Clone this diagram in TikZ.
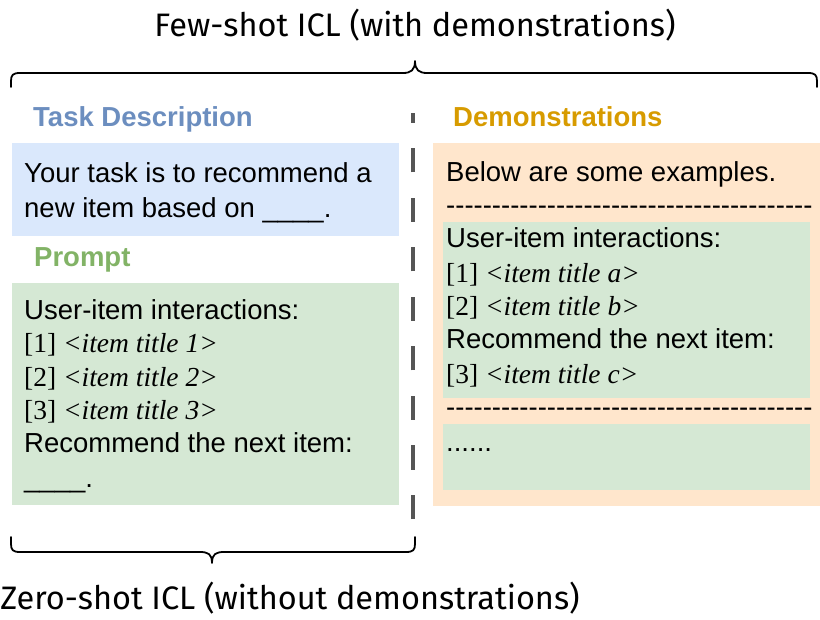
\documentclass[tikz,border=0pt]{standalone}
\usepackage{fontspec}
\setmainfont{Liberation Sans}
\newfontfamily\itemfont{Liberation Serif}
\newfontfamily\titlefont{Fira Sans}
\definecolor{blueF}{HTML}{DAE8FC}
\definecolor{greenF}{HTML}{D5E8D4}
\definecolor{orangeF}{HTML}{FFE6CC}
\definecolor{blueT}{HTML}{6C8EBF}
\definecolor{greenT}{HTML}{82B366}
\definecolor{orangeT}{HTML}{D79B00}
\definecolor{sepgray}{HTML}{555555}
\newcommand\itm[2]{{\itemfont [#1] \itshape <item title #2>}}
\newcommand\hfive{\mbox{-}\mbox{-}\mbox{-}\mbox{-}\mbox{-}}
\newcommand\hyrow{\hfive\hfive\hfive\hfive\hfive\hfive\hfive\hfive}
\newcommand\blank{\textunderscore\textunderscore\textunderscore\textunderscore}
\tikzset{
  body/.style={anchor=base west, inner sep=0pt, font=\fontsize{27.5}{33}\selectfont},
  lbl/.style={anchor=base west, inner sep=0pt, font=\fontsize{27.5}{33}\selectfont\bfseries},
  panel/.style={anchor=north west, inner sep=0pt, draw=none},
  ttl/.style={anchor=base, inner sep=0pt, font=\titlefont\fontsize{32.5}{38}\selectfont},
  bracepath/.style={line width=1.8pt, line cap=round, line join=round},
}
\begin{document}
\begin{tikzpicture}[x=1pt,y=-1pt]
\useasboundingbox (0,0) rectangle (820,620);
% panels
\node[panel, fill=blueF, minimum width=387pt, minimum height=93pt] (taskbox) at (12,143) {};
\node[panel, fill=greenF, minimum width=387pt, minimum height=222pt] (promptbox) at (12,283) {};
\node[panel, fill=orangeF, minimum width=387pt, minimum height=363pt] (demobox) at (433,143) {};
\node[panel, fill=greenF, minimum width=367pt, minimum height=176pt] (demoex) at (443,222) {};
\node[panel, fill=greenF, minimum width=367pt, minimum height=66pt] (demomore) at (443,424) {};
% labels
\node[lbl, text=blueT] (tasklbl) at (33,127) {Task Description};
\node[lbl, text=greenT] (promptlbl) at (34,267) {Prompt};
\node[lbl, text=orangeT] (demolbl) at (453,127) {Demonstrations};
% left texts
\node[body] (t1) at (24,183) {Your task is to recommend a};
\node[body] (t2) at (24,217.5) {new item based on \blank.};
\node[body] (p1) at (24,320) {User-item interactions:};
\node[body] (p2) at (24,353) {\itm{1}{1}};
\node[body] (p3) at (24,387) {\itm{2}{2}};
\node[body] (p4) at (24,420) {\itm{3}{3}};
\node[body] (p5) at (24,453) {Recommend the next item:};
\node[body] (p6) at (24,487) {\blank.};
% right texts
\node[body] (d0) at (446,182) {Below are some examples.};
\node[body] (dl1) at (446,215) {\hyrow};
\node[body] (d1) at (446,248) {User-item interactions:};
\node[body] (d2) at (446,283) {\itm{1}{a}};
\node[body] (d3) at (446,316) {\itm{2}{b}};
\node[body] (d4) at (446,349) {Recommend the next item:};
\node[body] (d5) at (446,384) {\itm{3}{c}};
\node[body] (dl2) at (446,417) {\hyrow};
\node[body] (d6) at (446,451) {......};
% separator
\coordinate (sepbot) at (413,519);
\coordinate (septop) at (413,113);
\draw[line width=3.2pt, sepgray, dash pattern=on 24pt off 25.5pt] (sepbot) -- (septop);
% braces
\draw[bracepath] (11,87) -- (11,81) .. controls (11,75) and (13,73) .. (20,73) -- (403,73)
  .. controls (411,73) and (415,70) .. (415,61) .. controls (415,70) and (419,73) .. (427,73)
  -- (808,73) .. controls (815,73) and (817,75) .. (817,81) -- (817,87);
\draw[bracepath] (11,537) -- (11,544) .. controls (11,550) and (13,552) .. (20,552) -- (200,552)
  .. controls (208,552) and (212,554) .. (212,563) .. controls (212,554) and (216,552) .. (224,552)
  -- (406,552) .. controls (413,552) and (415,550) .. (415,544) -- (415,537);
% titles
\node[ttl] (fewshot) at (415,37) {Few-shot ICL (with demonstrations)};
\node[ttl] (zeroshot) at (290,609) {Zero-shot ICL (without demonstrations)};
\end{tikzpicture}
\end{document}
